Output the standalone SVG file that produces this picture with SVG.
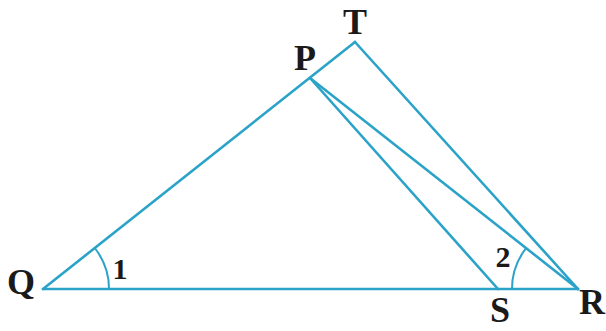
<svg xmlns="http://www.w3.org/2000/svg" width="606" height="331" viewBox="0 0 606 331">
<style>
.ln{stroke:#2ba3c8;stroke-width:2.6;fill:none;stroke-linecap:round}
.arc{stroke:#2ba3c8;stroke-width:2;fill:none}
.lb{font-family:"Liberation Serif","Times New Roman",serif;font-weight:bold;fill:#1a1a1a;text-anchor:middle}
.pt{font-size:36px}
.num{font-size:30px}
</style>
<rect width="606" height="331" fill="#ffffff"/>
<g id="connectors">
<line class="ln" x1="43" y1="289" x2="355" y2="42"/>
<line class="ln" x1="355" y1="42" x2="578" y2="289"/>
<line class="ln" x1="310" y1="78" x2="578" y2="289"/>
<line class="ln" x1="310" y1="78" x2="498" y2="289"/>
<line class="ln" x1="43" y1="289" x2="578" y2="289"/>
<path class="arc" d="M109,289 A66,66 0 0 0 94.7,248"/>
<path class="arc" d="M512,289 A66,66 0 0 1 526.1,248.2"/>
</g>
<g id="Q"><text class="lb pt" x="21" y="294">Q</text></g>
<g id="T"><text class="lb pt" x="355" y="34">T</text></g>
<g id="P"><text class="lb pt" x="305" y="70">P</text></g>
<g id="S"><text class="lb pt" x="500" y="322">S</text></g>
<g id="R"><text class="lb pt" x="592" y="314">R</text></g>
<g id="angle1"><text class="lb num" x="120" y="279">1</text></g>
<g id="angle2"><text class="lb num" x="503" y="267">2</text></g>
</svg>
